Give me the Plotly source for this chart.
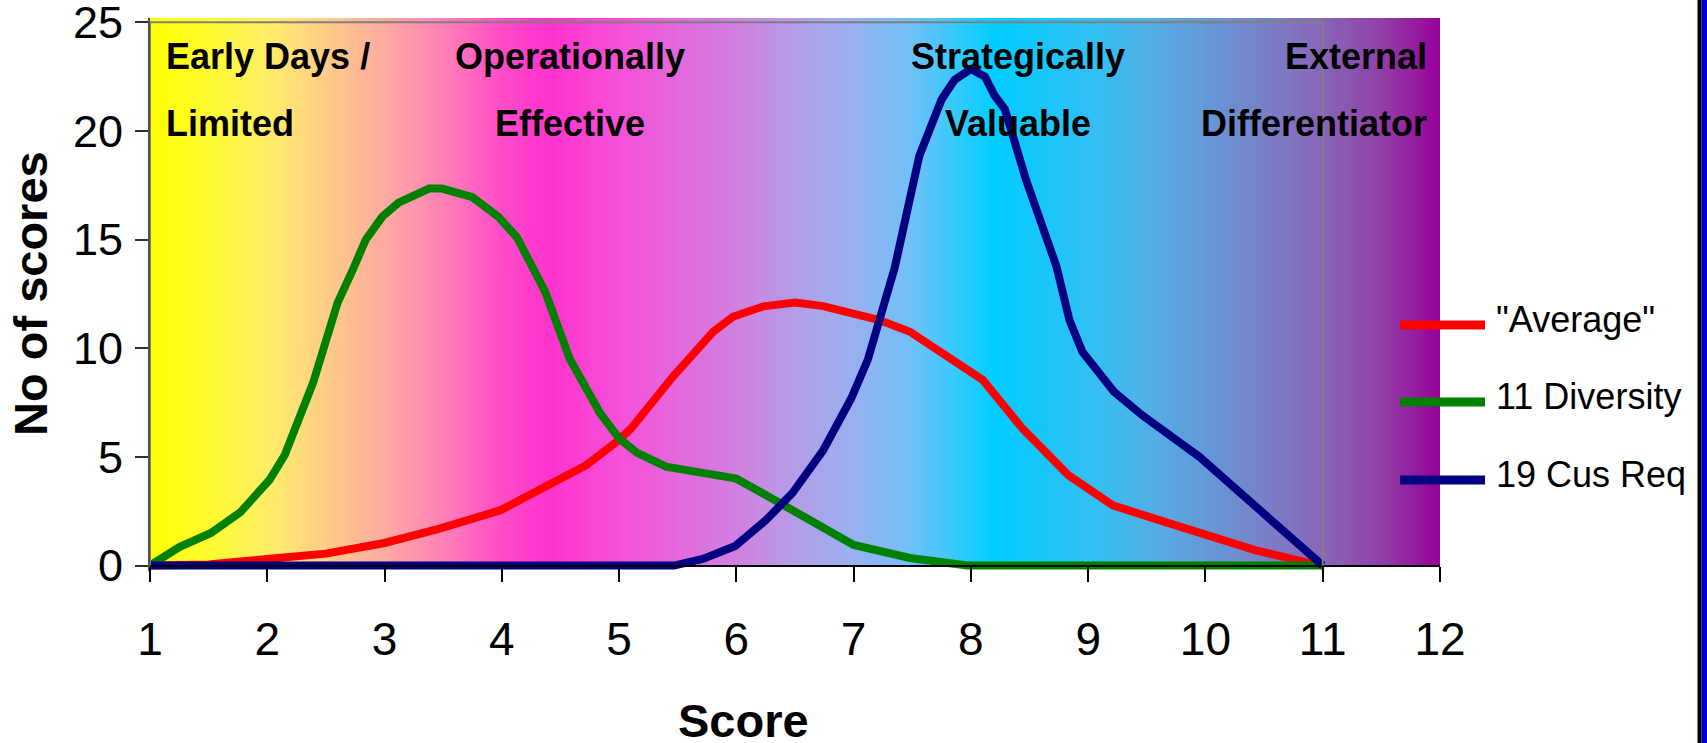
import numpy as np
import plotly.graph_objects as go

# ---------------- data ----------------
score_ticks = list(range(1, 13))
count_ticks = [0, 5, 10, 15, 20, 25]

series_names = ['"Average"', '11 Diversity', '19 Cus Req']
series_colors = ['#FF0000', '#008000', '#000080']

average_x = [1.0, 1.5, 2.0, 2.5, 3.0, 3.47, 3.99, 4.72, 4.98, 5.1, 5.46, 5.8, 5.97, 6.23,
             6.5, 6.74, 7.22, 7.48, 8.1, 8.44, 8.83, 9.21, 9.66, 10.43, 10.85, 11.0]
average_y = [0.0, 0.05, 0.3, 0.55, 1.04, 1.7, 2.55, 4.62, 5.7, 6.3, 8.7, 10.75, 11.45, 11.93,
             12.1, 11.94, 11.3, 10.76, 8.55, 6.3, 4.16, 2.77, 2.0, 0.7, 0.16, 0.0]

diversity_x = [1.0, 1.25, 1.52, 1.77, 2.02, 2.15, 2.39, 2.6, 2.72, 2.84, 2.98, 3.12, 3.38, 3.49,
               3.75, 3.97, 4.13, 4.37, 4.58, 4.84, 5.0, 5.15, 5.4, 5.58, 5.75, 6.0, 6.25, 6.47,
               6.74, 7.0, 7.48, 7.97, 9.0, 10.0, 11.0]
diversity_y = [0.0, 0.85, 1.5, 2.45, 3.95, 5.1, 8.4, 12.1, 13.5, 15.0, 16.05, 16.7, 17.35, 17.35,
               16.95, 16.05, 15.1, 12.6, 9.5, 7.0, 5.85, 5.2, 4.55, 4.4, 4.3, 4.0, 3.25, 2.6,
               1.7, 0.95, 0.35, 0.0, 0.0, 0.0, 0.0]

cusreq_x = [1.0, 2.0, 3.0, 4.0, 5.0, 5.47, 5.72, 5.99, 6.25, 6.48, 6.74, 6.98, 7.12, 7.35, 7.56,
            7.63, 7.75, 7.86, 8.0, 8.12, 8.2, 8.29, 8.47, 8.73, 8.84, 8.95, 9.22, 9.46, 9.72,
            9.95, 11.0]
cusreq_y = [0.0, 0.0, 0.0, 0.0, 0.0, 0.0, 0.32, 0.9, 2.08, 3.35, 5.3, 7.7, 9.46, 13.7, 18.85,
            19.75, 21.45, 22.35, 22.85, 22.5, 21.65, 21.0, 17.75, 13.76, 11.3, 9.84, 8.0, 6.92,
            5.92, 5.0, 0.0]

series_x = [average_x, diversity_x, cusreq_x]
series_y = [average_y, diversity_y, cusreq_y]

stage_lines = [("Early Days /", "Limited"), ("Operationally", "Effective"),
               ("Strategically", "Valuable"), ("External", "Differentiator")]

# ---------------- style ----------------
W, H = 1707, 743
L, R, T, B = 150, 267, 18, 172
PW, PH = W - L - R, H - T - B
XR = [1, 12]
YR = [-0.25, 25.2]

def pxx(px):
    return (px - L) / PW

def pxy(py):
    return (H - B - py) / PH

FONT = "Liberation Sans, Arial, sans-serif"

grad_pos = [1.0, 1.5, 2.0, 2.5, 3.0, 3.5, 4.0, 4.4, 5.0, 5.5, 6.0, 6.5, 7.0, 7.5, 8.0, 8.2,
            9.0, 9.5, 10.0, 10.5, 11.0, 11.5, 12.0]
grad_col = ['#FFFF00', '#FFFA30', '#FFEE66', '#FFCC88', '#FFAAA0', '#FF80B8', '#FF4CC8',
            '#FF33CC', '#F550D8', '#E468DC', '#D080E0', '#B49CE8', '#98B0F0', '#70C0F8',
            '#20CCFF', '#00CCFF', '#30C0F4', '#50B0E6', '#6498D8', '#7880C8', '#8866B8',
            '#9040A8', '#990099']
colorscale = [[(p - 1) / 11, c] for p, c in zip(grad_pos, grad_col)]

xe = np.linspace(1, 12.05, 443)
zc = np.clip((xe[:-1] + xe[1:]) / 2, 1, 12)

fig = go.Figure()
fig.add_trace(go.Heatmap(x=xe, y=[0, 25.2], z=[zc], colorscale=colorscale, zmin=1, zmax=12,
                         showscale=False, hoverinfo='skip'))

for name, color, xs, ys in zip(series_names, series_colors, series_x, series_y):
    fig.add_trace(go.Scatter(x=xs, y=ys, mode='lines', name=name,
                             line=dict(color=color, width=8), showlegend=False))

shapes = [
    # plot-area border (Excel style) without bottom edge
    dict(type='path', xref='x', yref='y', path='M 1,0 L 1,25 L 11,25 L 11,0',
         line=dict(color='#808080', width=2), layer='above'),
    # right-edge frame strips
    dict(type='rect', xref='paper', yref='paper', x0=pxx(1697.5), x1=pxx(1701.5), y0=-1, y1=2,
         fillcolor='#000000', line=dict(width=0), layer='above'),
    dict(type='rect', xref='paper', yref='paper', x0=pxx(1701.5), x1=pxx(1710), y0=-1, y1=2,
         fillcolor='#0000CC', line=dict(width=0), layer='above'),
]

annotations = []
# legend (drawn manually for long line samples)
leg_y = [325, 402, 480]
for name, color, ly in zip(series_names, series_colors, leg_y):
    shapes.append(dict(type='line', xref='paper', yref='paper', x0=pxx(1400), x1=pxx(1485),
                       y0=pxy(ly), y1=pxy(ly), line=dict(color=color, width=9)))
    annotations.append(dict(text=name, xref='paper', yref='paper', x=pxx(1494), y=pxy(ly - 6),
                            xanchor='left', yanchor='middle', showarrow=False,
                            font=dict(family=FONT, size=36, color='black')))

# stage labels
stage_pos = [(164, 'left'), (570, 'center'), (1018, 'center'), (1429, 'right')]
for (l1, l2), (px, anc) in zip(stage_lines, stage_pos):
    for txt, py in ((l1, 56), (l2, 123)):
        annotations.append(dict(text=f"<b>{txt}</b>", xref='paper', yref='paper', x=pxx(px),
                                y=pxy(py), xanchor=anc, yanchor='middle', showarrow=False,
                                font=dict(family=FONT, size=36, color='black')))

# axis titles
annotations.append(dict(text="<b>No of scores</b>", xref='paper', yref='paper', x=pxx(30),
                        y=pxy(294), xanchor='center', yanchor='middle', textangle=-90,
                        showarrow=False, font=dict(family=FONT, size=47, color='black')))
annotations.append(dict(text="<b>Score</b>", xref='paper', yref='paper', x=pxx(743),
                        y=pxy(720), xanchor='center', yanchor='middle',
                        showarrow=False, font=dict(family=FONT, size=47, color='black')))

xpos = (0 - YR[0]) / (YR[1] - YR[0])

fig.update_layout(
    width=W, height=H,
    margin=dict(l=L, r=R, t=T, b=B, autoexpand=False),
    paper_bgcolor='white', plot_bgcolor='white',
    showlegend=False,
    shapes=shapes, annotations=annotations,
    xaxis=dict(range=XR, tickvals=score_ticks, ticktext=[str(v) for v in score_ticks],
               anchor='free', position=xpos, showline=True, linecolor='black', linewidth=2,
               ticks='outside', ticklen=15, tickwidth=1.5, tickcolor='black',
               ticklabelstandoff=18, ticklabeloverflow='allow', showgrid=False, zeroline=False,
               tickfont=dict(family=FONT, size=46, color='black')),
    xaxis2=dict(range=XR, overlaying='x', anchor='free', position=xpos, tickvals=score_ticks,
                ticks='inside', ticklen=15, tickwidth=1.5, tickcolor='black',
                showticklabels=False, showline=False, showgrid=False, zeroline=False),
    yaxis=dict(range=YR, tickvals=count_ticks, ticktext=[str(v) for v in count_ticks],
               showline=True, linecolor='#505050', linewidth=2,
               ticks='outside', ticklen=13, tickwidth=1.5, tickcolor='#303030',
               ticklabelstandoff=3, ticklabeloverflow='allow', showgrid=False, zeroline=False,
               tickfont=dict(family=FONT, size=45, color='black')),
    yaxis2=dict(range=YR, overlaying='y', anchor='x', side='left', tickvals=count_ticks,
                ticks='inside', ticklen=13, tickwidth=1.5, tickcolor='#303030',
                showticklabels=False, showline=False, showgrid=False, zeroline=False),
)

fig.write_html("out.html", config={"displayModeBar": False},
               post_script="document.body.style.margin='0px';"
               "document.body.style.overflow='hidden';")
